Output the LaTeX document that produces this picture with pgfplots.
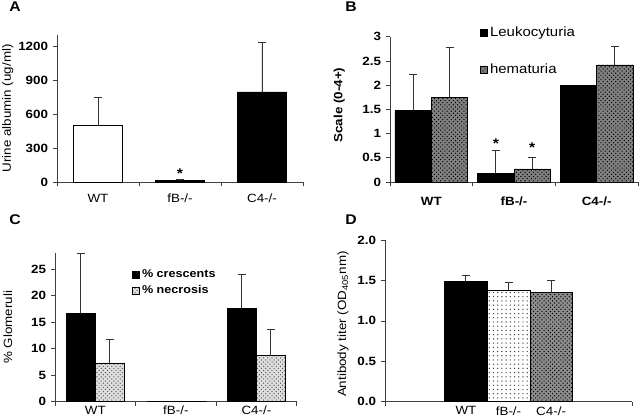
\documentclass[border=0pt]{standalone}
\usepackage{fontspec}
\setmainfont[FakeStretch=1.12]{Liberation Sans}
\usepackage{pgfplots}
\pgfplotsset{compat=1.18}
\usetikzlibrary{patterns}

\pgfplotsset{
  panel/.style={
    scale only axis,
    anchor=south west,
    axis x line*=bottom, axis y line*=left,
    axis line style={-, black!75, line width=0.5pt},
    tick style={black!75, line width=0.5pt},
    tick align=outside,
    major tick length=0.1cm,
    ymin=0,
    ybar,
    tick label style={font=\fontsize{8.5}{10}\selectfont},
    yticklabel style={font=\fontsize{8.5}{10}\selectfont\bfseries},
    label style={font=\fontsize{8.5}{10}\selectfont},
    /pgf/number format/assume math mode=true,
    /pgf/number format/1000 sep={},
    error bars/y dir=plus, error bars/y explicit,
    error bars/error mark=-,
    error bars/error bar style={black!80, line width=0.6pt},
    error bars/error mark options={rotate=90, black!80, line width=0.6pt, mark size=0.1cm},
    every axis plot/.append style={draw=black, line width=0.4pt},
    legend image code/.code={\draw[#1, line width=0.3pt] (0cm,-0.08cm) rectangle (0.17cm,0.09cm);},
  },
  groups/.style={
    xmin=-0.5, xmax=2.5,
    xtick={-0.5,0.5,1.5,2.5},
    xticklabels={WT,fB-/-,C4-/-},
    x tick label as interval,
  },
}

\begin{document}
\begin{tikzpicture}
\path[use as bounding box] (0cm,0cm) rectangle (16cm,10.475cm);

% A: urine albumin
\begin{axis}[panel, groups,
  at={(1.425cm,5.925cm)}, width=6.15cm, height=3.683cm,
  ymax=1300, ytick={0,300,...,1200},
  bar width=0.6,
  xticklabel style={yshift=-0.08cm},
  ylabel={Urine albumin (ug/ml)},
  ylabel style={at={(axis description cs:-0.2,0.5)}, anchor=center},
]
\addplot[fill=white, bar shift=0] coordinates {(0,500) +- (0,250)};
\addplot[fill=black, bar shift=0] coordinates {(1,15) +- (0,6) (2,795) +- (0,435)};
\node[font=\fontsize{10}{10}\selectfont\bfseries] at (axis cs:1,70) {*};
\end{axis}

% B: urine sediment
\begin{axis}[panel, groups,
  at={(9.75cm,5.925cm)}, width=6.2cm, height=3.6325cm,
  ymax=3, ytick={0,0.5,...,3},
  bar width=0.44,
  xticklabel style={font=\fontsize{8.5}{10}\selectfont\bfseries, yshift=-0.15cm},
  ylabel={\bfseries Scale (0-4+)},
  ylabel style={at={(axis description cs:-0.205,0.53)}, anchor=center},
  legend style={draw=none, fill=none, at={(axis description cs:0.345,0.9)}, anchor=west,
    font=\fontsize{9.5}{11}\selectfont, row sep=0.48cm, legend cell align=left},
]
\addplot[fill=black, bar shift=-0.22] coordinates {(0,1.48) +- (0,0.74) (1,0.18) +- (0,0.47)};
\addlegendentry{Leukocyturia}
\addplot[fill=black!50, postaction={pattern=crosshatch dots, pattern color=black}, bar shift=0.22]
  coordinates {(0,1.75) +- (0,1.03) (1,0.27) +- (0,0.23) (2,2.42) +- (0,0.38)};
\addlegendentry{hematuria}
\addplot[fill=black, bar shift=-0.22, error bars/y dir=none, forget plot] coordinates {(2,2.0)};
\node[font=\fontsize{10}{10}\selectfont\bfseries] at (axis cs:0.78,0.8) {*};
\node[font=\fontsize{10}{10}\selectfont\bfseries] at (axis cs:1.22,0.7) {*};
\end{axis}

% C: glomeruli
\begin{axis}[panel, groups,
  at={(1.375cm,0.4325cm)}, width=6.0425cm, height=3.715cm,
  ymax=28, ytick={0,5,...,25},
  bar width=0.36,
  xticklabel style={yshift=0.12cm},
  ylabel={\% Glomeruli},
  ylabel style={at={(axis description cs:-0.195,0.5)}, anchor=center},
  legend style={draw=none, fill=none, at={(axis description cs:0.3,0.8)}, anchor=west,
    font=\fontsize{8}{9}\selectfont\bfseries, row sep=0cm, legend cell align=left},
]
\addplot[fill=black, bar shift=-0.18] coordinates {(0,16.7) +- (0,11.3) (2,17.6) +- (0,6.4)};
\addlegendentry{\% crescents}
\addplot[fill=gray!25, postaction={pattern=crosshatch dots, pattern color=gray!70!black}, bar shift=0.18]
  coordinates {(0,7.3) +- (0,4.5) (2,8.7) +- (0,4.9)};
\addlegendentry{\% necrosis}
\addplot[fill=black, bar shift=-0.18, error bars/y dir=none, forget plot] coordinates {(1,0.1)};
\addplot[fill=black, bar shift=0.18, error bars/y dir=none, forget plot] coordinates {(1,0.1)};
\end{axis}

% D: antibody titer
\begin{axis}[panel,
  at={(9.625cm,0.4325cm)}, width=6.175cm, height=4.0425cm,
  xmin=-1.9, xmax=3.9,
  ymax=2, ytick={0,0.5,...,2},
  yticklabel style={/pgf/number format/fixed, /pgf/number format/fixed zerofill, /pgf/number format/precision=1},
  bar width=1,
  xtick={0,1,2}, xticklabels={WT,fB-/-,C4-/-},
  xticklabel style={yshift=0.1cm},
  xtick style={draw=none},
  extra x ticks={-1.9,3.9}, extra x tick labels={},
  extra x tick style={xtick style={draw=black!75}},
  ylabel={Antibody titer (OD\textsubscript{405}nm)},
  ylabel style={at={(axis description cs:-0.17,0.48)}, anchor=center},
]
\addplot[fill=black, bar shift=0] coordinates {(0,1.49) +- (0,0.07)};
\addplot[fill=white, postaction={pattern=dots, pattern color=black!75}, bar shift=0] coordinates {(1,1.38) +- (0,0.10)};
\addplot[fill=black!45, postaction={pattern=crosshatch dots, pattern color=black}, bar shift=0] coordinates {(2,1.35) +- (0,0.15)};
\end{axis}

\node[font=\fontsize{10}{12}\selectfont\bfseries] at (0.375cm,10.3cm) {A};
\node[font=\fontsize{10}{12}\selectfont\bfseries] at (8.775cm,10.3cm) {B};
\node[font=\fontsize{10}{12}\selectfont\bfseries] at (0.375cm,4.975cm) {C};
\node[font=\fontsize{10}{12}\selectfont\bfseries] at (8.775cm,4.975cm) {D};
\end{tikzpicture}
\end{document}
